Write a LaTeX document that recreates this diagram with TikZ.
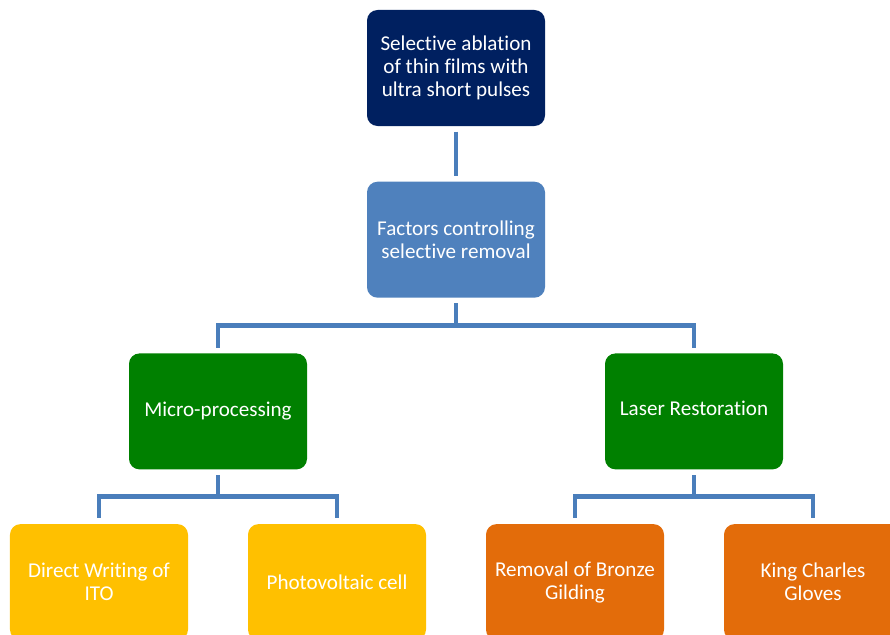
\documentclass[tikz,border=0pt]{standalone}
\usepackage{fontspec}
\setmainfont{Carlito}[Ligatures=NoCommon]
\definecolor{ABLnavy}{HTML}{002060}
\definecolor{ABLblue}{HTML}{4F81BD}
\definecolor{ABLgreen}{HTML}{008000}
\definecolor{ABLyellow}{HTML}{FFC000}
\definecolor{ABLorange}{HTML}{E36C0A}
\definecolor{ABLline}{HTML}{4A7EBB}
\usetikzlibrary{positioning}

\begin{document}
\begin{tikzpicture}[
      box/.style={rounded corners=6pt, minimum width=3.56cm, minimum height=2.32cm,
                  inner sep=2pt, align=center, text=white,
                  font=\fontsize{12}{13}\selectfont},
      conn/.style={ABLline, line width=2.8pt, shorten <=3pt, shorten >=3pt}
   ]
      \useasboundingbox[clip] (0,0) rectangle (17.8,-12.7);

      \node[box, fill=ABLnavy] (abl) at (9.12,-1.36) {Selective ablation\\of thin films with\\ultra short pulses};
      \node[box, fill=ABLblue, below=1.1cm of abl] (fac) {Factors controlling\\selective removal};
      \node[box, fill=ABLgreen, below=1.1cm of fac, xshift=-4.76cm] (mic) {Micro-processing};
      \node[box, fill=ABLgreen, below=1.1cm of fac, xshift=4.76cm] (las) {\strut Laser Restoration};
      \node[box, fill=ABLyellow, below=1.08cm of mic, xshift=-2.38cm] (ito) {Direct Writing of\\ITO};
      \node[box, fill=ABLyellow, below=1.08cm of mic, xshift=2.38cm] (pv) {Photovoltaic cell};
      \node[box, fill=ABLorange, below=1.08cm of las, xshift=-2.38cm] (brz) {Removal of Bronze\\Gilding};
      \node[box, fill=ABLorange, below=1.08cm of las, xshift=2.38cm] (kcg) {King Charles\\Gloves};

      \draw[conn] (abl) -- (fac);
      \draw[conn] (fac.south) -- ++(0,-0.55) -| (mic.north);
      \draw[conn] (fac.south) -- ++(0,-0.55) -| (las.north);
      \draw[conn] (mic.south) -- ++(0,-0.54) -| (ito.north);
      \draw[conn] (mic.south) -- ++(0,-0.54) -| (pv.north);
      \draw[conn] (las.south) -- ++(0,-0.54) -| (brz.north);
      \draw[conn] (las.south) -- ++(0,-0.54) -| (kcg.north);
   \end{tikzpicture}
\end{document}
